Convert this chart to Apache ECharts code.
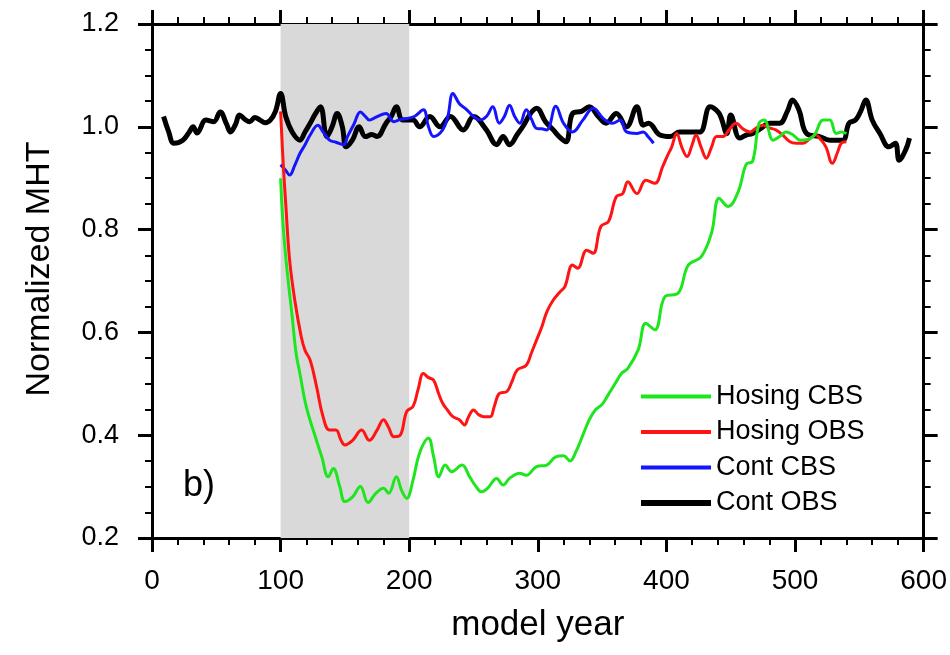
<!DOCTYPE html>
<html>
<head>
<meta charset="utf-8">
<title>Normalized MHT</title>
<script src="https://cdn.jsdelivr.net/npm/echarts@6/dist/echarts.min.js"></script>
<style>
  html, body { margin: 0; padding: 0; background: #fff; }
  #chart { width: 950px; height: 655px; }
</style>
</head>
<body>
<div id="chart"></div>
<script>
// Cont OBS (black)
const contObsYears = [9, 13, 17, 24, 29, 32, 35, 42, 48, 53, 58, 61, 65, 68, 72, 76, 80, 84, 88, 92, 96, 100, 104, 109, 115, 119, 123, 127, 131, 136, 140, 144, 148, 151, 156, 161, 166, 171, 175, 182, 186, 190, 195, 203, 208, 216, 224, 232, 242, 250, 260, 268, 273, 278, 284, 289, 294, 299, 306, 312, 317, 322, 327, 334, 340, 347, 353, 361, 369, 377, 382, 386, 395, 403, 410, 418, 426, 434, 441, 447, 450, 457, 462, 467, 474, 480, 488, 494, 498, 503, 509, 519, 527, 537, 542, 547, 551, 555, 560, 566, 573, 578, 581, 586, 589];
const contObsValues = [1.02, 0.99, 0.968, 0.974, 0.99, 1.0, 0.988, 1.013, 1.01, 1.029, 1.005, 0.99, 1.005, 1.023, 1.015, 1.01, 1.018, 1.013, 1.008, 1.013, 1.03, 1.065, 1.02, 0.99, 0.974, 0.99, 1.007, 1.025, 1.039, 0.981, 1.0, 1.026, 1.0, 0.961, 0.975, 1.0, 0.981, 0.985, 0.981, 1.007, 1.02, 1.039, 1.013, 1.013, 1.0, 1.02, 1.0, 1.02, 0.994, 1.02, 0.994, 0.965, 0.981, 0.965, 0.985, 1.003, 1.025, 1.036, 1.01, 0.994, 0.98, 0.971, 1.026, 1.03, 1.039, 1.02, 1.007, 1.026, 1.0, 1.039, 1.003, 1.007, 0.984, 0.981, 0.99, 0.99, 0.99, 1.039, 1.026, 0.987, 1.023, 0.978, 0.984, 0.987, 0.998, 1.007, 1.007, 1.03, 1.052, 1.033, 0.987, 0.981, 0.974, 0.974, 1.007, 1.013, 1.03, 1.052, 1.013, 0.987, 0.961, 0.968, 0.935, 0.955, 0.978];

// Cont CBS (blue)
const contCbsYears = [100, 104, 107, 111, 115, 119, 123, 129, 133, 138, 143, 149, 152, 157, 162, 166, 169, 175, 182, 188, 193, 198, 204, 211, 215, 219, 226, 230, 234, 239, 244, 250, 255, 260, 265, 270, 274, 278, 282, 286, 291, 295, 299, 303, 307, 314, 320, 327, 335, 343, 351, 358, 364, 369, 377, 382, 386, 390];
const contCbsValues = [0.926, 0.915, 0.906, 0.925, 0.948, 0.965, 0.984, 1.003, 0.99, 0.974, 0.97, 0.965, 0.981, 1.005, 1.029, 1.02, 1.013, 1.02, 1.026, 1.01, 1.014, 1.016, 1.02, 1.033, 1.0, 0.981, 0.994, 1.02, 1.065, 1.045, 1.035, 1.02, 1.013, 1.02, 1.039, 1.007, 1.02, 1.042, 1.02, 1.007, 1.033, 1.015, 0.997, 0.996, 0.994, 1.04, 1.007, 0.99, 1.013, 1.036, 1.016, 1.007, 1.013, 0.99, 0.987, 0.99, 0.98, 0.968];

// Hosing OBS (red)
const hosObsYears = [100, 102, 104, 107, 111, 116, 119, 123, 128, 133, 138, 143, 147, 150, 156, 163, 169, 175, 180, 184, 188, 193, 198, 203, 207, 211, 215, 219, 223, 226, 230, 234, 239, 243, 246, 250, 254, 258, 263, 266, 270, 276, 280, 284, 291, 295, 299, 303, 307, 312, 317, 321, 327, 331, 338, 343, 349, 355, 361, 366, 370, 377, 384, 391, 397, 401, 404, 408, 412, 416, 420, 423, 427, 431, 435, 439, 444, 449, 454, 460, 465, 470, 475, 480, 485, 490, 496, 501, 506, 511, 516, 520, 524, 529, 533, 536, 540];
const hosObsValues = [1.03, 0.93, 0.85, 0.741, 0.663, 0.592, 0.565, 0.546, 0.494, 0.436, 0.41, 0.41, 0.39, 0.381, 0.39, 0.41, 0.39, 0.41, 0.43, 0.415, 0.397, 0.4, 0.446, 0.456, 0.49, 0.52, 0.512, 0.507, 0.48, 0.462, 0.448, 0.436, 0.43, 0.42, 0.435, 0.449, 0.44, 0.436, 0.436, 0.455, 0.481, 0.485, 0.505, 0.527, 0.536, 0.56, 0.585, 0.61, 0.64, 0.663, 0.678, 0.689, 0.731, 0.725, 0.76, 0.754, 0.806, 0.816, 0.864, 0.87, 0.893, 0.87, 0.896, 0.89, 0.922, 0.945, 0.96, 0.987, 0.96, 0.942, 0.965, 0.984, 0.96, 0.939, 0.96, 0.981, 0.981, 0.995, 1.007, 0.995, 0.99, 0.998, 1.003, 0.998, 0.994, 0.985, 0.971, 0.968, 0.968, 0.976, 0.984, 0.975, 0.961, 0.929, 0.95, 0.968, 0.971];

// Hosing CBS (green)
const hosCbsYears = [100, 102, 105, 109, 112, 115, 120, 127, 132, 137, 141, 146, 150, 156, 162, 168, 174, 180, 184, 190, 194, 198, 203, 208, 215, 219, 223, 228, 233, 241, 247, 252, 256, 261, 268, 273, 278, 286, 291, 299, 307, 314, 320, 325, 330, 335, 340, 345, 350, 355, 360, 365, 370, 378, 384, 391, 399, 409, 417, 427, 435, 441, 448, 456, 462, 467, 472, 476, 483, 488, 493, 498, 504, 514, 522, 527, 532, 536, 540];
const hosCbsValues = [0.9, 0.806, 0.721, 0.631, 0.56, 0.52, 0.455, 0.397, 0.358, 0.319, 0.335, 0.3, 0.271, 0.28, 0.3, 0.269, 0.287, 0.297, 0.287, 0.319, 0.293, 0.277, 0.313, 0.365, 0.394, 0.358, 0.319, 0.342, 0.329, 0.342, 0.319, 0.3, 0.29, 0.297, 0.316, 0.303, 0.316, 0.326, 0.322, 0.339, 0.342, 0.358, 0.36, 0.35, 0.37, 0.4, 0.43, 0.45, 0.46, 0.48, 0.5, 0.52, 0.53, 0.566, 0.618, 0.605, 0.67, 0.676, 0.731, 0.747, 0.793, 0.861, 0.845, 0.875, 0.927, 0.933, 1.007, 1.013, 0.974, 0.981, 0.99, 0.985, 0.974, 0.981, 1.013, 1.013, 0.987, 0.99, 0.987];

// shaded hosing period
const hosingPeriod = [100, 200];

const legendNames = ['Hosing CBS', 'Hosing OBS', 'Cont CBS', 'Cont OBS'];
const legendWidths = [4, 4, 4, 6];

const zip = (xs, ys) => xs.map((x, i) => [x, ys[i]]);

const FONT = 'Liberation Sans';

const chart = echarts.init(document.getElementById('chart'));

const frameLine = { show: true, onZero: false, lineStyle: { color: '#000', width: 3 } };
const majorTick = { show: true, inside: false, length: 14, lineStyle: { color: '#000', width: 3 } };
const minorTick = (n) => ({ show: true, splitNumber: n, length: 7, lineStyle: { color: '#000', width: 2 } });

const option = {
  animation: false,
  textStyle: { fontFamily: FONT },
  title: {
    text: 'b)',
    left: 178,
    top: 463,
    textStyle: { fontFamily: FONT, fontSize: 36, fontWeight: 'normal', color: '#000' }
  },
  legend: {
    data: legendNames.map((name, i) => ({ name, lineStyle: { width: legendWidths[i] } })),
    orient: 'vertical',
    left: 633,
    top: 378,
    itemWidth: 70,
    itemHeight: 4,
    itemGap: 8.5,
    itemStyle: { opacity: 0 },
    textStyle: { fontFamily: FONT, fontSize: 27, color: '#000', lineHeight: 27 },
    selectedMode: false
  },
  grid: { left: 152, right: 26, top: 24, bottom: 117 },
  xAxis: [
    {
      type: 'value',
      position: 'bottom',
      min: 0,
      max: 600,
      interval: 100,
      name: 'model year',
      nameLocation: 'middle',
      nameGap: 70,
      nameTextStyle: { fontFamily: FONT, fontSize: 35, color: '#000' },
      axisLine: frameLine,
      axisTick: majorTick,
      minorTick: minorTick(5),
      axisLabel: { fontFamily: FONT, fontSize: 28, color: '#000', margin: 29 },
      splitLine: { show: false }
    },
    {
      type: 'value',
      position: 'top',
      min: 0,
      max: 600,
      interval: 100,
      axisLine: frameLine,
      axisTick: majorTick,
      minorTick: minorTick(5),
      axisLabel: { show: false },
      splitLine: { show: false }
    }
  ],
  yAxis: [
    {
      type: 'value',
      position: 'left',
      min: 0.2,
      max: 1.2,
      interval: 0.2,
      name: 'Normalized MHT',
      nameLocation: 'middle',
      nameGap: 95,
      nameTextStyle: { fontFamily: FONT, fontSize: 34, color: '#000', padding: [0, 0, 0, 24] },
      axisLine: frameLine,
      axisTick: majorTick,
      minorTick: minorTick(4),
      axisLabel: { fontFamily: FONT, fontSize: 27, color: '#000', margin: 33, formatter: v => v.toFixed(1) },
      splitLine: { show: false }
    },
    {
      type: 'value',
      position: 'right',
      min: 0.2,
      max: 1.2,
      interval: 0.2,
      axisLine: frameLine,
      axisTick: majorTick,
      minorTick: minorTick(4),
      axisLabel: { show: false },
      splitLine: { show: false }
    }
  ],
  series: [
    {
      name: 'shade',
      type: 'line',
      data: [],
      silent: true,
      markArea: {
        silent: true,
        itemStyle: { color: '#d9d9d9' },
        data: [[{ xAxis: hosingPeriod[0] }, { xAxis: hosingPeriod[1] }]]
      }
    },
    {
      name: 'Cont OBS',
      type: 'line',
      data: zip(contObsYears, contObsValues),
      smooth: 0.4,
      showSymbol: false,
      symbol: 'none',
      itemStyle: { color: '#000' },
      lineStyle: { color: '#000', width: 5 }
    },
    {
      name: 'Cont CBS',
      type: 'line',
      data: zip(contCbsYears, contCbsValues),
      smooth: 0.4,
      showSymbol: false,
      symbol: 'none',
      itemStyle: { color: '#1414ff' },
      lineStyle: { color: '#1414ff', width: 3 }
    },
    {
      name: 'Hosing OBS',
      type: 'line',
      data: zip(hosObsYears, hosObsValues),
      smooth: 0.4,
      showSymbol: false,
      symbol: 'none',
      itemStyle: { color: '#ff1414' },
      lineStyle: { color: '#ff1414', width: 3 }
    },
    {
      name: 'Hosing CBS',
      type: 'line',
      data: zip(hosCbsYears, hosCbsValues),
      smooth: 0.4,
      showSymbol: false,
      symbol: 'none',
      itemStyle: { color: '#1ee61e' },
      lineStyle: { color: '#1ee61e', width: 3 }
    }
  ]
};

chart.setOption(option);
</script>
</body>
</html>
